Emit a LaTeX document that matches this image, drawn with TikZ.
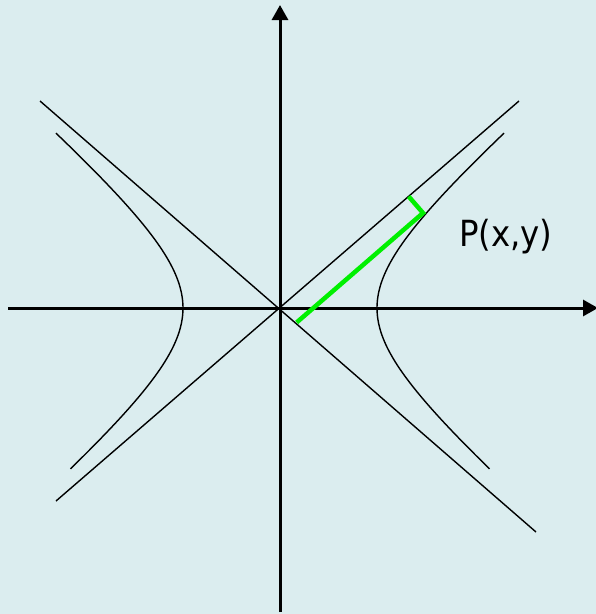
\documentclass[tikz,border=0pt]{standalone}
\usepackage{fontspec}
\newfontfamily\labelfont{DejaVu Sans Condensed}
\usetikzlibrary{arrows.meta}
\definecolor{bgblue}{RGB}{219,237,239}
\definecolor{hgreen}{RGB}{0,240,0}
\tikzset{
  axisline/.style={line width=3pt,-{Triangle[length=15pt,width=16pt]}},
  thinline/.style={line width=1.4pt},
  greenline/.style={hgreen,line width=4.5pt,line join=miter},
  lbl/.style={inner sep=0pt,font=\labelfont\fontsize{36}{40}\selectfont}
}
\begin{document}
\begin{tikzpicture}[x=1pt,y=-1pt]
\fill[bgblue] (0,0) rectangle (596,614);
\useasboundingbox (0,0) rectangle (596,614);
% key points
\coordinate (C) at (280,308);
\coordinate (xl) at (8,308);
\coordinate (xr) at (598,308);
\coordinate (yb) at (280,612);
\coordinate (yt) at (280,5);
\coordinate (a1s) at (40,101);
\coordinate (a1e) at (536,532);
\coordinate (a2s) at (56,501);
\coordinate (a2e) at (519,101);
\coordinate (P) at (423,213);
\coordinate (F) at (408.7,196.5);
\coordinate (Q) at (296.7,322.4);
% axes
\draw[axisline] (xl) -- (xr);
\draw[axisline] (yb) -- (yt);
% asymptotes
\draw[thinline] (a1s) -- (a1e);
\draw[thinline] (a2s) -- (a2e);
% hyperbola branches
\draw[thinline] plot[domain=-1.405:1.48,samples=80,variable=\t] ({280+97*cosh(\t)},{308-84*sinh(\t)});
\draw[thinline] plot[domain=-1.405:1.48,samples=80,variable=\t] ({280-97*cosh(\t)},{308-84*sinh(\t)});
% green segments
\draw[greenline] (Q) -- (P) -- (F);
% label
\node[lbl,anchor=base west] (lab) at (459,246.5) {P(x,y)};
\end{tikzpicture}
\end{document}
